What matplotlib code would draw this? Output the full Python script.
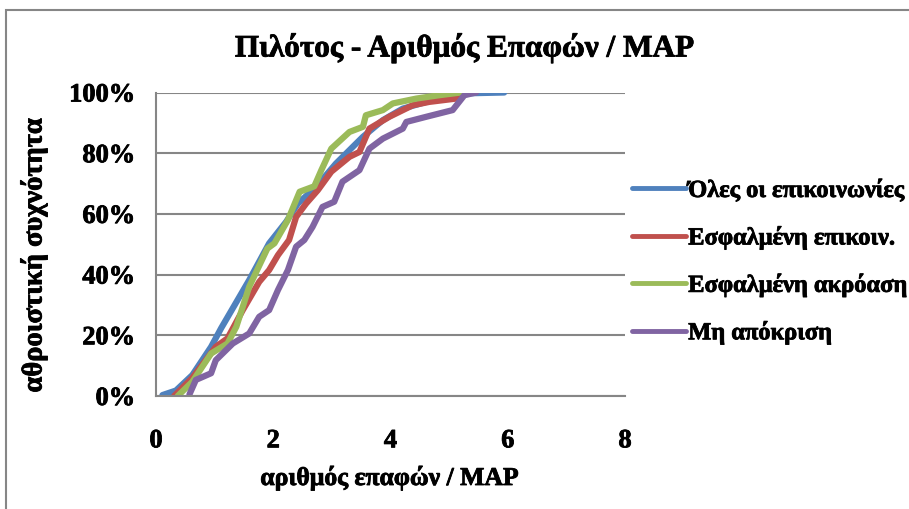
import matplotlib
matplotlib.use("Agg")
import matplotlib.pyplot as plt
from matplotlib.ticker import FuncFormatter
from matplotlib.patches import Rectangle
from matplotlib.font_manager import FontProperties
import matplotlib.patheffects as pe

title = "Πιλότος - Αριθμός Επαφών / MAP"
xlabel = "αριθμός επαφών / MAP"
ylabel = "αθροιστική συχνότητα"

labels = ["Όλες οι επικοινωνίες", "Εσφαλμένη επικοιν.", "Εσφαλμένη ακρόαση", "Μη απόκριση"]
colors = ["#4F81BD", "#C0504D", "#9BBB59", "#8064A2"]

x_all = [0.11, 0.34, 0.62, 0.94, 1.11, 1.59, 1.93, 2.22, 2.42, 2.73, 3.07, 3.53, 3.87, 4.21, 4.72, 5.23, 5.94]
y_all = [0.3, 1.8, 6.9, 16.2, 22.3, 38.2, 50.3, 57.4, 63.4, 68.9, 76.6, 85.4, 90.9, 94.7, 97.5, 99.7, 100]

x_comm = [0.31, 0.62, 1.02, 1.22, 1.48, 1.76, 1.93, 2.08, 2.27, 2.39, 2.56, 2.76, 2.99, 3.30, 3.47, 3.64, 3.98, 4.38, 4.66, 5.12, 5.26]
y_comm = [0, 6.0, 16.2, 19.0, 28.3, 37.6, 41.5, 46.4, 51.4, 59.0, 63.4, 67.8, 73.9, 78.8, 80.4, 88.1, 92.0, 95.8, 96.9, 98.0, 100]

x_hear = [0.37, 0.62, 0.94, 1.22, 1.37, 1.59, 1.90, 2.02, 2.25, 2.45, 2.70, 2.82, 2.99, 3.30, 3.53, 3.58, 3.87, 4.04, 4.44, 4.83, 5.20]
y_hear = [0, 4.7, 14.0, 17.3, 22.8, 36.0, 48.6, 50.3, 58.0, 67.3, 69.1, 74.4, 81.5, 87.0, 88.7, 92.5, 94.2, 96.4, 98.0, 99.1, 100]

x_none = [0.57, 0.68, 0.94, 1.02, 1.31, 1.59, 1.76, 1.93, 2.08, 2.25, 2.39, 2.53, 2.67, 2.84, 3.04, 3.18, 3.47, 3.64, 3.87, 4.21, 4.27, 4.61, 5.06, 5.26, 5.46]
y_none = [0.5, 5.3, 7.5, 11.8, 17.3, 20.6, 26.1, 28.3, 34.9, 41.5, 49.2, 51.4, 55.7, 62.3, 64.0, 70.6, 74.4, 81.5, 84.8, 88.1, 90.3, 92.0, 94.2, 99.1, 100]

series_x = [x_all, x_comm, x_hear, x_none]
series_y = [y_all, y_comm, y_hear, y_none]

x_ticks = [0, 2, 4, 6, 8]
y_ticks = [0, 20, 40, 60, 80, 100]

plt.rcParams['font.family'] = ['Liberation Serif', 'DejaVu Serif']
plt.rcParams['font.weight'] = 'bold'

heavy = [pe.withStroke(linewidth=0.6, foreground='black')]

fig = plt.figure(figsize=(9.09, 5.09), dpi=100)
fig.patches.append(Rectangle((6/909, -0.1), 1.2, 1 - 10/509 + 0.1, transform=fig.transFigure,
                             fill=False, edgecolor="#868686", linewidth=1.5))

ax = fig.add_axes([156/909, 1 - 396/509, (625 - 156)/909, (396 - 92.5)/509])

for xs, ys, c, lab in zip(series_x, series_y, colors, labels):
    ax.plot(xs, ys, color=c, linewidth=4.5, label=lab, solid_capstyle='round', solid_joinstyle='round')

ax.set_xlim(0, 8)
ax.set_ylim(0, 100)
ax.set_xticks(x_ticks)
ax.set_yticks(y_ticks)
ax.yaxis.set_major_formatter(FuncFormatter(lambda v, p: f"{int(v)}%"))
ax.grid(axis='y', color="#868686", linewidth=1.5)
ax.set_axisbelow(True)
for s in ['top', 'right']:
    ax.spines[s].set_visible(False)
for s in ['left', 'bottom']:
    ax.spines[s].set_color("#868686")
    ax.spines[s].set_linewidth(1.5)
ax.tick_params(axis='both', length=0, labelsize=19)
ax.tick_params(axis='y', pad=15)
ax.tick_params(axis='x', pad=24)
for t in ax.get_xticklabels() + ax.get_yticklabels():
    t.set_fontweight('bold')
    t.set_path_effects(heavy)

fig.text(390/909, 1 - 478/509, xlabel, fontsize=18.5, fontweight='bold', ha='center', va='center',
         path_effects=heavy)
fig.text(34/909, 1 - 255/509, ylabel, rotation=90, fontsize=20.5, fontweight='bold', ha='center', va='center',
         path_effects=heavy)
fig.text(465/909, 1 - 48/509, title, fontsize=22.5, fontweight='bold', ha='center', va='center',
         path_effects=heavy)

leg_font = FontProperties(family=['Liberation Serif'], weight='bold', size=17.6)
leg = ax.legend(loc='center left', bbox_to_anchor=(632/909, 1 - 262/509), bbox_transform=fig.transFigure,
                frameon=False, prop=leg_font, handlelength=2.2,
                handletextpad=0.1, labelspacing=1.0, borderaxespad=0, borderpad=0)
for line in leg.get_lines():
    line.set_linewidth(3.5)
for t in leg.get_texts():
    t.set_fontproperties(leg_font)
    t.set_path_effects(heavy)

fig.savefig("out.png", dpi=100)
